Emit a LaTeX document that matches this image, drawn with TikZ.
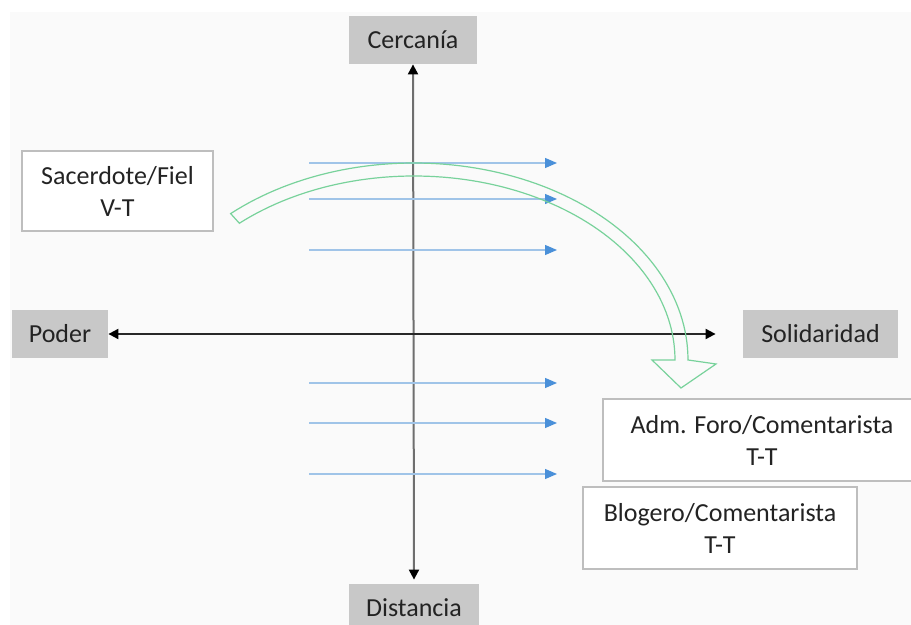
\documentclass[tikz,border=0pt]{standalone}
\usepackage{fontspec}
\setmainfont{Carlito}
\usetikzlibrary{arrows.meta}
\definecolor{bg}{RGB}{250,250,250}
\definecolor{boxgray}{RGB}{200,200,200}
\definecolor{edgegray}{RGB}{190,190,190}
\definecolor{txt}{RGB}{35,35,35}
\definecolor{arrblue}{RGB}{74,144,217}
\definecolor{shaftblue}{RGB}{160,196,232}
\definecolor{grn}{RGB}{120,210,155}
\definecolor{vaxis}{RGB}{110,110,110}
\definecolor{haxis}{RGB}{40,40,40}
\begin{document}
\begin{tikzpicture}[x=0.5pt,y=-0.5pt,
  every node/.style={font=\fontsize{13}{16}\selectfont, text=txt, inner sep=0pt, align=center},
  graybox/.style={fill=boxgray, minimum height=24pt},
  whitebox/.style={draw=edgegray, line width=0.8pt, fill=white},
  axisline/.style={line width=1pt,
    {Triangle[width=5pt,length=5pt,color=black]}-{Triangle[width=5pt,length=5pt,color=black]}},
  bluearr/.style={draw=shaftblue, line width=0.6pt, -{Triangle[width=5pt,length=6pt,color=arrblue]}},
  greenarr/.style={draw=grn, line width=0.6pt}
]
\clip (0,0) rectangle (911,625);
\fill[white] (0,0) rectangle (911,625);
\fill[bg] (10,12) rectangle (911,625);

% axis labels
\node[graybox, minimum width=64pt] (cerc) at (413,40) {Cercanía};
\node[graybox, minimum width=65pt] (dist) at (414,608) {Distancia};
\node[graybox, minimum width=48pt] (poder) at (60,334) {Poder};
\node[graybox, minimum width=77.5pt] (sol) at (820.5,334) {Solidaridad};

% axes
\draw[axisline, draw=vaxis] (cerc.south) -- ([yshift=2pt]dist.north);
\draw[axisline, draw=haxis, shorten >=13.5pt] (poder.east) -- (sol.west);

% blue arrows
\foreach \i/\yy in {1/163,2/199,3/250,4/383,5/423,6/474}{
  \coordinate (bs\i) at (309,\yy);
  \coordinate (be\i) at (557,\yy);
  \draw[bluearr] (bs\i) -- (be\i);
}

% green curved block arrow
\draw[greenarr] plot[domain=132:0, samples=80] ({414+274*cos(\x)},{360-197*sin(\x)})
  -- (716,364) -- (681,388) -- (652,360) -- (675,360)
  -- plot[domain=0:132, samples=80] ({414+261*cos(\x)},{360-184*sin(\x)}) -- cycle;

% role boxes
\node[whitebox, minimum width=95.5pt, minimum height=40pt] (sac) at (117.5,191) {Sacerdote/Fiel\\V-T};
\node[whitebox, minimum width=159pt, minimum height=41pt] (adm) at (762,440) {Adm. Foro/Comentarista\\T-T};
\node[whitebox, minimum width=137pt, minimum height=41pt] (blog) at (720,528) {Blogero/Comentarista\\T-T};
\end{tikzpicture}
\end{document}
